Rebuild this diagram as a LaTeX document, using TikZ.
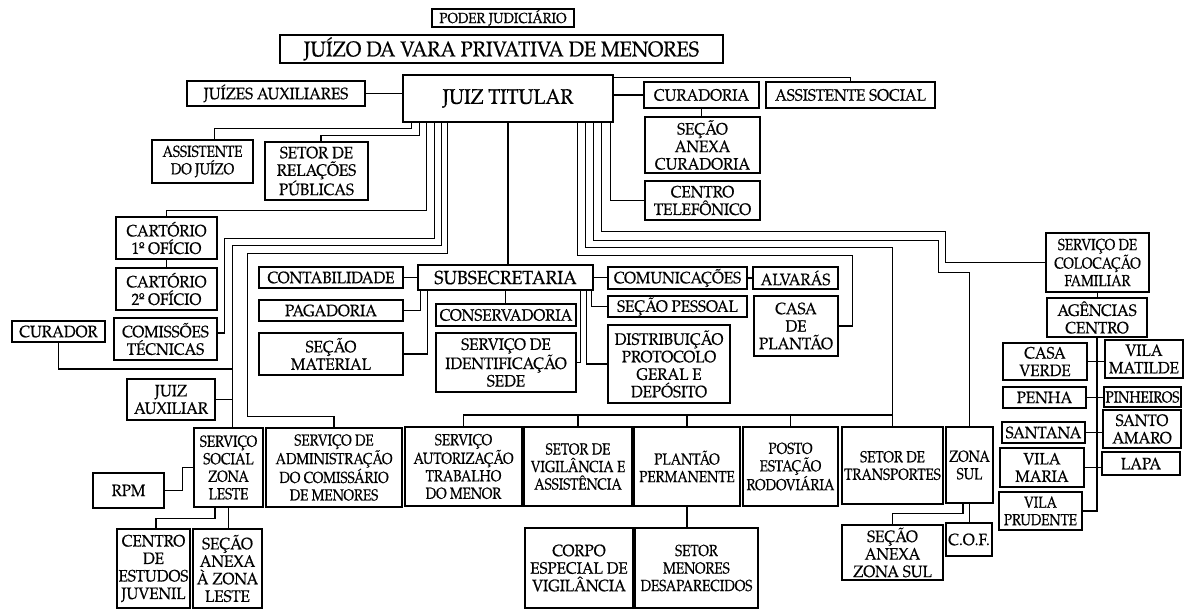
\documentclass[tikz,border=0pt]{standalone}
\usepackage{fontspec}
\setmainfont{texgyrepagella}[Extension=.otf, UprightFont=*-regular, BoldFont=*-bold, ItalicFont=*-italic, BoldItalicFont=*-bolditalic, FakeStretch=0.92, FakeBold=0.6]
\newfontfamily\narrowfont{texgyrepagella}[Extension=.otf, UprightFont=*-regular, FakeStretch=0.84, FakeBold=0.6]
\tikzset{
  bx/.style={draw, line width=1.4pt, inner sep=0pt, align=center, font=\fontsize{16.5}{17.5}\selectfont},
  ln/.style={line width=1.4pt},
  sm/.style={font=\narrowfont\fontsize{16}{17.5}\selectfont},
}
\newcommand\bx[7][]{\node[bx,#1,minimum width={#5-#3}, minimum height={#6-#4}] (#2) at ({(#3+#5)/2},{(#4+#6)/2}) {#7};}
\begin{document}
\begin{tikzpicture}[x=1pt,y=-1pt]
\useasboundingbox (0,0) rectangle (1187,610);
\fill[white] (0,0) rectangle (1187,610);
% boxes
\bx[font=\fontsize{14.5}{16}\selectfont]{pj}{432}{9}{574}{27}{PODER JUDICIÁRIO}
\bx[font=\fontsize{21.5}{24}\selectfont]{jz}{280}{35}{723}{63}{JUÍZO DA VARA PRIVATIVA DE MENORES}
\bx[font=\fontsize{21}{24}\selectfont]{jt}{403}{75}{613}{122}{JUIZ TITULAR}
\bx{ja}{187}{81}{365}{106}{JUÍZES AUXILIARES}
\bx{cu}{644}{82}{759}{108}{CURADORIA}
\bx{as}{766}{82}{935}{108}{ASSISTENTE SOCIAL}
\bx{sac}{645}{117}{760}{173}{SEÇÃO\\ANEXA\\CURADORIA}
\bx{ct}{645}{181}{760}{220}{CENTRO\\TELEFÔNICO}
\bx[sm]{aj}{152}{140}{253}{183}{ASSISTENTE\\DO JUÍZO}
\bx{sr}{265}{142}{368}{200}{SETOR DE\\RELAÇÕES\\PÚBLICAS}
\bx{c1}{116}{217}{217}{259}{CARTÓRIO\\1º OFÍCIO}
\bx{c2}{116}{268}{217}{310}{CARTÓRIO\\2º OFÍCIO}
\bx{cm}{114}{318}{217}{360}{COMISSÕES\\TÉCNICAS}
\bx{cur}{12}{321}{105}{342}{CURADOR}
\bx{jx}{127}{379}{215}{420}{JUIZ\\AUXILIAR}
\bx{cb}{259}{267}{403}{288}{CONTABILIDADE}
\bx{pg}{259}{300}{403}{321}{PAGADORIA}
\bx{smat}{259}{333}{403}{375}{SEÇÃO\\MATERIAL}
\bx[font=\fontsize{19}{22}\selectfont]{ss}{418}{265}{593}{290}{SUBSECRETARIA}
\bx{cv}{436}{304}{576}{326}{CONSERVADORIA}
\bx{si}{436}{333}{576}{392}{SERVIÇO DE\\IDENTIFICAÇÃO\\SEDE}
\bx{co}{608}{267}{747}{289}{COMUNICAÇÕES}
\bx{al}{753}{267}{838}{289}{ALVARÁS}
\bx{sp}{608}{296}{747}{317}{SEÇÃO PESSOAL}
\bx{cp}{754}{296}{838}{356}{CASA\\DE\\PLANTÃO}
\bx{dp}{608}{325}{730}{403}{DISTRIBUIÇÃO\\PROTOCOLO\\GERAL E\\DEPÓSITO}
\bx[sm]{scf}{1046}{233}{1149}{292}{SERVIÇO DE\\COLOCAÇÃO\\FAMILIAR}
\bx{ag}{1047}{298}{1147}{337}{AGÊNCIAS\\CENTRO}
\bx{cvd}{1003}{343}{1087}{380}{CASA\\VERDE}
\bx{vmt}{1105}{340}{1183}{378}{VILA\\MATILDE}
\bx{pe}{1003}{387}{1086}{408}{PENHA}
\bx[sm]{pi}{1104}{387}{1181}{407}{PINHEIROS}
\bx{sa}{1002}{422}{1085}{443}{SANTANA}
\bx{sam}{1103}{410}{1181}{448}{SANTO\\AMARO}
\bx{vm}{1000}{448}{1084}{487}{VILA\\MARIA}
\bx{la}{1102}{452}{1180}{475}{LAPA}
\bx[sm]{vp}{999}{492}{1082}{530}{VILA\\PRUDENTE}
\bx[sm]{ssl}{194}{428}{263}{507}{SERVIÇO\\SOCIAL\\ZONA\\LESTE}
\bx[sm]{sadm}{266}{428}{402}{507}{SERVIÇO DE\\ADMINISTRAÇÃO\\DO COMISSÁRIO\\DE MENORES}
\bx[sm]{sat}{405}{427}{522}{506}{SERVIÇO\\AUTORIZAÇÃO\\TRABALHO\\DO MENOR}
\bx[sm]{svg}{524}{427}{632}{506}{SETOR DE\\VIGILÂNCIA E\\ASSISTÊNCIA}
\bx[sm]{ppm}{634}{427}{740}{506}{PLANTÃO\\PERMANENTE}
\bx[sm]{pes}{743}{427}{838}{506}{POSTO\\ESTAÇÃO\\RODOVIÁRIA}
\bx[sm]{stp}{842}{427}{943}{504}{SETOR DE\\TRANSPORTES}
\bx[sm]{zs}{946}{427}{993}{503}{ZONA\\SUL}
\bx{rpm}{93}{473}{164}{508}{RPM}
\bx{cej}{117}{529}{190}{608}{CENTRO\\DE\\ESTUDOS\\JUVENIL}
\bx{slz}{193}{529}{262}{608}{SEÇÃO\\ANEXA\\À ZONA\\LESTE}
\bx{ce}{525}{528}{633}{608}{CORPO\\ESPECIAL DE\\VIGILÂNCIA}
\bx[sm]{smd}{635}{528}{758}{608}{SETOR\\MENORES\\DESAPARECIDOS}
\bx{saz}{842}{525}{943}{580}{SEÇÃO\\ANEXA\\ZONA SUL}
\bx{cof}{946}{523}{992}{556}{C.O.F.}
% connectors
\begin{scope}[ln]
\draw (ja.east) -- (ja.east -| jt.west);
\draw (jt.east |- cu.west) -- (cu.west);
\draw ([yshift=-3pt]jt.north east) -| (as.north);
\draw (cu.south) -- (cu.south |- sac.north);
\draw ([xshift=-3pt]jt.south east) |- (ct.west);
\draw ([xshift=9pt]jt.south west) -- ++(0,6) -| ([xshift=12pt]aj.north);
\draw ([xshift=17pt]jt.south west) -- ++(0,13) -| ([xshift=4.5pt]sr.north);
\draw ([xshift=24pt]jt.south west) -- ++(0,88) -| (c1.north);
\draw (c1.south) -- (c2.north);
\draw ([xshift=32pt]jt.south west) -- ++(0,116) -- ++(-210,0) |- ([yshift=6pt]cm.east);
\draw ([xshift=39pt]jt.south west) -- ++(0,123) -| ([xshift=4pt]ssl.north);
\coordinate (jcur) at (232.5,369);
\draw (cur.south) |- (jcur);
\coordinate (jjx) at (232.5,399.5);
\draw (jx.east) -- (jjx);
\draw ([xshift=45pt]jt.south west) -- ++(0,131) -- ++(-200,0) -- ++(0,163) -| (sadm.north);
\draw (jt.south) -- (jt.south |- ss.north);
\draw (cb.east) -- (ss.west);
\draw ([xshift=3pt]ss.south west) |- (pg.east);
\draw ([xshift=10pt]ss.south west) |- (smat.east);
\draw (ss.south) -- (ss.south |- cv.north);
\draw ([xshift=-13pt]ss.south east) |- (si.east);
\draw ([xshift=-7pt]ss.south east) |- (dp.west);
\draw ([xshift=-2pt]ss.south east) |- (sp.west);
\draw (ss.east) -- (ss.east -| co.west);
\draw (co.east) -- (al.west);
\draw ([xshift=-36pt]jt.south east) -- ++(0,133) -| ([xshift=14pt]cp.east) -- (cp.east);
\draw ([xshift=-28pt]jt.south east) -- ++(0,125) -| (stp.north);
\coordinate (bus) at (892.5,415);
\foreach \n in {sat,svg,ppm,pes} \draw (\n.north) |- (bus);
\draw ([xshift=-20pt]jt.south east) -- ++(0,118) -- ++(345,0) -- ++(0,32) -| (zs.north);
\draw ([xshift=-12pt]jt.south east) -- ++(0,109) -- ++(344,0) |- (scf.west);
\draw (ppm.south) -- (ppm.south |- smd.north);
\draw ([xshift=-6.5pt]zs.south) -- ++(0,10) -| (saz.north);
\draw (zs.south) -- (zs.south |- cof.north);
\draw (rpm.east) -- ++(18,0) |- (ssl.west);
\draw ([xshift=-13.5pt]ssl.south) -- ++(0,11) -| ([xshift=2.5pt]cej.north);
\draw (ssl.south) -- (ssl.south |- slz.north);
\draw (scf.south) -- (scf.south |- ag.north);
\draw (ag.south) |- (vp.east);
\draw (cvd.east) -- (cvd.east -| vmt.west);
\draw (pe.east) -- (pe.east -| pi.west);
\draw (sa.east) -- (sa.east -| sam.west);
\draw (vm.east) -- (vm.east -| la.west);
\end{scope}
\end{tikzpicture}
\end{document}
